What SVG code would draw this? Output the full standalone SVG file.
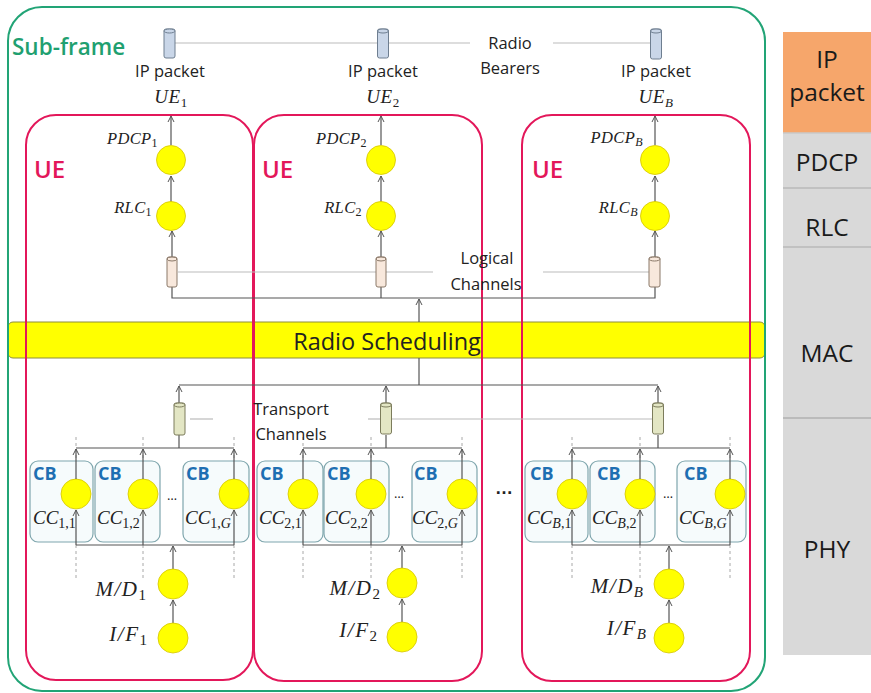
<svg xmlns="http://www.w3.org/2000/svg" width="871" height="693" viewBox="0 0 871 693">
<style>
.bg{fill:#ffffff}
.frame{fill:none;stroke:#22a476;stroke-width:2}
.ue{fill:none;stroke:#e3175a;stroke-width:2}
.bar{fill:#ffff00;stroke:#8c8c3c;stroke-width:1}
.cb{fill:#f6fbfc;stroke:#7fa6ad;stroke-width:1.2}
.node{fill:#ffff00;stroke:#d4c400;stroke-width:0.8}
.rb{fill:#c9d6e8;stroke:#6e7e90;stroke-width:1}
.lc{fill:#f8e8dc;stroke:#8a7868;stroke-width:1}
.tc{fill:#e3e6c4;stroke:#7c7c5c;stroke-width:1}
.ln{fill:none;stroke:#555;stroke-width:1.2}
.lt{fill:none;stroke:#bbb;stroke-width:1.2}
.dash{fill:none;stroke:#a8a8a8;stroke-width:1;stroke-dasharray:3,3}
.arr{fill:none;stroke:#555;stroke-width:1.2;marker-end:url(#ah)}
.sans{font-family:"Open Sans","Liberation Sans",sans-serif;fill:#222}
.small{font-size:16.5px}
.math{font-family:"Liberation Serif","DejaVu Serif",serif;font-style:italic;fill:#222}
.up{font-style:normal}
.uelab{font-family:"Open Sans","Liberation Sans",sans-serif;font-weight:600;font-size:24px;fill:#e3175a}
.cblab{font-family:"Open Sans","Liberation Sans",sans-serif;font-weight:700;font-size:18px;fill:#1e6fb2}
.col{font-family:"Open Sans","Liberation Sans",sans-serif;font-size:24.5px;fill:#1a1a1a;text-anchor:middle}
</style>
<defs>
<marker id="ah" markerWidth="8" markerHeight="8" refX="7" refY="4" orient="auto" markerUnits="userSpaceOnUse">
<path d="M1,1 L7,4 L1,7" fill="none" stroke="#555" stroke-width="1"/>
</marker>
</defs>
<rect class="bg" x="0" y="0" width="871" height="693"/>

<!-- right column layers -->
<g id="layers">
<rect x="783" y="32" width="88" height="101" fill="#f6a66b"/>
<rect x="783" y="133" width="88" height="522" fill="#d9d9d9"/>
<line x1="783" y1="133" x2="871" y2="133" stroke="#c8c8c8" stroke-width="1.5"/>
<line x1="783" y1="188" x2="871" y2="188" stroke="#b8b8b8" stroke-width="1.5"/>
<line x1="783" y1="247" x2="871" y2="247" stroke="#b8b8b8" stroke-width="1.5"/>
<line x1="783" y1="418" x2="871" y2="418" stroke="#b0b0b0" stroke-width="1.5"/>
<text class="col" x="827" y="68">IP</text>
<text class="col" x="827" y="101">packet</text>
<text class="col" x="827" y="171">PDCP</text>
<text class="col" x="827" y="236">RLC</text>
<text class="col" x="827" y="362">MAC</text>
<text class="col" x="827" y="558">PHY</text>
</g>

<!-- radio scheduling bar -->
<g id="radio-scheduling">
<rect class="bar" x="8" y="322" width="757" height="36" rx="5"/>
<text class="sans" x="387" y="350" font-size="23.5" text-anchor="middle">Radio Scheduling</text>
</g>

<!-- frames -->
<g id="subframe">
<rect class="frame" x="8" y="7" width="757" height="684" rx="34"/>
<text x="12" y="55" font-family="'Open Sans','Liberation Sans',sans-serif" font-weight="600" font-size="22.5" fill="#1fa070">Sub-frame</text>
</g>
<g id="ue1-box"><rect class="ue" x="26" y="115" width="227" height="565" rx="30"/><text class="uelab" x="34" y="178">UE</text></g>
<g id="ue2-box"><rect class="ue" x="254" y="115" width="228" height="566" rx="30"/><text class="uelab" x="262" y="178">UE</text></g>
<g id="ue3-box"><rect class="ue" x="522" y="115" width="228" height="566" rx="30"/><text class="uelab" x="532" y="178">UE</text></g>

<!-- connectors -->
<g id="connectors">
<line class="lt" x1="175" y1="43" x2="470" y2="43"/>
<line class="lt" x1="553" y1="43" x2="650" y2="43"/>
<line class="arr" x1="171" y1="145" x2="171" y2="116"/>
<line class="arr" x1="171" y1="202" x2="171" y2="176"/>
<line class="arr" x1="172" y1="257" x2="172" y2="231"/>
<line class="arr" x1="381" y1="145" x2="381" y2="116"/>
<line class="arr" x1="381" y1="202" x2="381" y2="176"/>
<line class="arr" x1="381" y1="257" x2="381" y2="231"/>
<line class="arr" x1="655" y1="145" x2="655" y2="116"/>
<line class="arr" x1="655" y1="202" x2="655" y2="176"/>
<line class="arr" x1="655" y1="257" x2="655" y2="231"/>
<line class="lt" x1="178" y1="272" x2="433" y2="272"/>
<line class="lt" x1="543" y1="272" x2="649" y2="272"/>
<polyline class="ln" points="172,287 172,298 655,298 655,287"/>
<line class="ln" x1="381" y1="287" x2="381" y2="298"/>
<line class="arr" x1="419" y1="322" x2="419" y2="299"/>
<line class="ln" x1="419" y1="358" x2="419" y2="385"/>
<line class="ln" x1="179" y1="385" x2="658" y2="385"/>
<line class="arr" x1="179" y1="403" x2="179" y2="386"/>
<line class="arr" x1="386" y1="403" x2="386" y2="386"/>
<line class="arr" x1="658" y1="403" x2="658" y2="386"/>
<line class="lt" x1="190" y1="419" x2="213" y2="419"/>
<line class="lt" x1="368" y1="419" x2="381" y2="419"/>
<line class="lt" x1="392" y1="419" x2="653" y2="419"/>
<line class="ln" x1="179" y1="435" x2="179" y2="448"/>
<line class="ln" x1="386" y1="435" x2="386" y2="448"/>
<line class="ln" x1="658" y1="435" x2="658" y2="448"/>
<line class="ln" x1="76" y1="448" x2="234" y2="448"/>
<line class="ln" x1="303" y1="448" x2="462" y2="448"/>
<line class="ln" x1="572" y1="448" x2="730" y2="448"/>
<line class="dash" x1="76" y1="437" x2="76" y2="578"/>
<line class="dash" x1="143" y1="437" x2="143" y2="578"/>
<line class="dash" x1="234" y1="437" x2="234" y2="578"/>
<line class="dash" x1="303" y1="437" x2="303" y2="578"/>
<line class="dash" x1="371" y1="437" x2="371" y2="578"/>
<line class="dash" x1="462" y1="437" x2="462" y2="578"/>
<line class="dash" x1="572" y1="437" x2="572" y2="578"/>
<line class="dash" x1="640" y1="437" x2="640" y2="578"/>
<line class="dash" x1="730" y1="437" x2="730" y2="578"/>
<line class="ln" x1="76" y1="545" x2="234" y2="545"/>
<line class="ln" x1="303" y1="545" x2="462" y2="545"/>
<line class="ln" x1="572" y1="545" x2="730" y2="545"/>
<line class="arr" x1="173" y1="569" x2="173" y2="546"/>
<line class="arr" x1="402" y1="568" x2="402" y2="546"/>
<line class="arr" x1="669" y1="569" x2="669" y2="546"/>
<line class="arr" x1="173" y1="623" x2="173" y2="600"/>
<line class="arr" x1="402" y1="622" x2="402" y2="599"/>
<line class="arr" x1="669" y1="623" x2="669" y2="600"/>
</g>

<!-- UE1 nodes -->
<g id="ue1">
<g id="rb1"><rect class="rb" x="164" y="29" width="11" height="29" rx="2"/><ellipse class="rb" cx="169.5" cy="31" rx="5.5" ry="2"/></g>
<text class="sans small" x="170" y="77" text-anchor="middle">IP packet</text>
<text class="math" x="171" y="103" font-size="19" text-anchor="middle" letter-spacing="0.5">UE<tspan class="up" font-size="13" dy="4">1</tspan></text>
<circle class="node" cx="171" cy="160" r="14.5"/>
<text class="math" x="158" y="144" font-size="16.5" text-anchor="end" letter-spacing="0.4">PDCP<tspan class="up" font-size="12" dy="3">1</tspan></text>
<circle class="node" cx="171" cy="216" r="14.5"/>
<text class="math" x="152" y="213" font-size="16.5" text-anchor="end" letter-spacing="0.4">RLC<tspan class="up" font-size="12" dy="3">1</tspan></text>
<g id="lc1"><rect class="lc" x="167" y="257" width="10" height="30" rx="2"/><ellipse class="lc" cx="172" cy="259" rx="5" ry="2"/></g>
<g id="tc1"><rect class="tc" x="174" y="403" width="11" height="32" rx="2"/><ellipse class="tc" cx="179.5" cy="405" rx="5.5" ry="2"/></g>
</g>
<g id="cb1-1"><rect class="cb" x="30" y="461" width="63" height="81" rx="8"/><text class="cblab" x="33" y="480">CB</text><text class="math" x="33" y="524" font-size="19">CC<tspan class="up" font-size="14" dy="4">1,1</tspan></text></g>
<g id="cb1-2"><rect class="cb" x="95" y="461" width="65" height="81" rx="8"/><text class="cblab" x="98" y="480">CB</text><text class="math" x="97" y="524" font-size="19">CC<tspan class="up" font-size="14" dy="4">1,2</tspan></text></g>
<g id="cb1-g"><rect class="cb" x="183" y="461" width="66" height="81" rx="8"/><text class="cblab" x="186" y="480">CB</text><text class="math" x="185" y="524" font-size="19">CC<tspan class="up" font-size="14" dy="4">1,</tspan><tspan font-size="14">G</tspan></text></g>
<text class="sans" x="172" y="500" font-size="13" text-anchor="middle">…</text>

<!-- UE2 nodes -->
<g id="ue2">
<g id="rb2"><rect class="rb" x="377.5" y="29" width="11" height="29" rx="2"/><ellipse class="rb" cx="383" cy="31" rx="5.5" ry="2"/></g>
<text class="sans small" x="383" y="77" text-anchor="middle">IP packet</text>
<text class="math" x="383" y="103" font-size="19" text-anchor="middle" letter-spacing="0.5">UE<tspan class="up" font-size="13" dy="4">2</tspan></text>
<circle class="node" cx="381" cy="160" r="14.5"/>
<text class="math" x="367" y="144" font-size="16.5" text-anchor="end" letter-spacing="0.4">PDCP<tspan class="up" font-size="12" dy="3">2</tspan></text>
<circle class="node" cx="381" cy="216" r="14.5"/>
<text class="math" x="362" y="213" font-size="16.5" text-anchor="end" letter-spacing="0.4">RLC<tspan class="up" font-size="12" dy="3">2</tspan></text>
<g id="lc2"><rect class="lc" x="376" y="257" width="10" height="30" rx="2"/><ellipse class="lc" cx="381" cy="259" rx="5" ry="2"/></g>
<g id="tc2"><rect class="tc" x="380.5" y="403" width="11" height="31" rx="2"/><ellipse class="tc" cx="386" cy="405" rx="5.5" ry="2"/></g>
</g>
<g id="cb2-1"><rect class="cb" x="257" y="461" width="66" height="81" rx="8"/><text class="cblab" x="260" y="480">CB</text><text class="math" x="259" y="524" font-size="19">CC<tspan class="up" font-size="14" dy="4">2,1</tspan></text></g>
<g id="cb2-2"><rect class="cb" x="324" y="461" width="65" height="81" rx="8"/><text class="cblab" x="327" y="480">CB</text><text class="math" x="325" y="524" font-size="19">CC<tspan class="up" font-size="14" dy="4">2,2</tspan></text></g>
<g id="cb2-g"><rect class="cb" x="412" y="461" width="65" height="81" rx="8"/><text class="cblab" x="414" y="480">CB</text><text class="math" x="412" y="524" font-size="19">CC<tspan class="up" font-size="14" dy="4">2,</tspan><tspan font-size="14">G</tspan></text></g>
<text class="sans" x="399" y="498" font-size="13" text-anchor="middle">…</text>

<!-- UE B nodes -->
<g id="ueB">
<g id="rbB"><rect class="rb" x="650.5" y="29" width="11" height="30" rx="2"/><ellipse class="rb" cx="656" cy="31" rx="5.5" ry="2"/></g>
<text class="sans small" x="656" y="77" text-anchor="middle">IP packet</text>
<text class="math" x="656" y="103" font-size="19" text-anchor="middle" letter-spacing="0.5">UE<tspan font-size="13" dy="4">B</tspan></text>
<circle class="node" cx="655" cy="160" r="14.5"/>
<text class="math" x="643" y="143" font-size="16.5" text-anchor="end" letter-spacing="0.4">PDCP<tspan font-size="12" dy="3">B</tspan></text>
<circle class="node" cx="655" cy="216" r="14.5"/>
<text class="math" x="638" y="213" font-size="16.5" text-anchor="end" letter-spacing="0.4">RLC<tspan font-size="12" dy="3">B</tspan></text>
<g id="lcB"><rect class="lc" x="649" y="257" width="11" height="30" rx="2"/><ellipse class="lc" cx="654.5" cy="259" rx="5.5" ry="2"/></g>
<g id="tcB"><rect class="tc" x="652.5" y="403" width="11" height="31" rx="2"/><ellipse class="tc" cx="658" cy="405" rx="5.5" ry="2"/></g>
</g>
<g id="cbB-1"><rect class="cb" x="525" y="461" width="63" height="81" rx="8"/><text class="cblab" x="530" y="480">CB</text><text class="math" x="527" y="524" font-size="19">CC<tspan font-size="14" dy="4">B</tspan><tspan class="up" font-size="14">,1</tspan></text></g>
<g id="cbB-2"><rect class="cb" x="590" y="461" width="65" height="81" rx="8"/><text class="cblab" x="597" y="480">CB</text><text class="math" x="592" y="524" font-size="19">CC<tspan font-size="14" dy="4">B</tspan><tspan class="up" font-size="14">,2</tspan></text></g>
<g id="cbB-g"><rect class="cb" x="677" y="461" width="69" height="81" rx="8"/><text class="cblab" x="684" y="480">CB</text><text class="math" x="679" y="524" font-size="19">CC<tspan font-size="14" dy="4">B,G</tspan></text></g>
<text class="sans" x="668" y="498" font-size="13" text-anchor="middle">…</text>

<!-- CB circles and arrows -->
<g id="cb-nodes">
<circle class="node" cx="76" cy="494" r="15"/><circle class="node" cx="143" cy="494" r="15"/><circle class="node" cx="234" cy="494" r="15"/>
<circle class="node" cx="303" cy="494" r="15"/><circle class="node" cx="371" cy="494" r="15"/><circle class="node" cx="462" cy="494" r="15"/>
<circle class="node" cx="572" cy="494" r="15"/><circle class="node" cx="640" cy="494" r="15"/><circle class="node" cx="730" cy="494" r="15"/>
</g>
<g id="cb-arrows">
<line class="arr" x1="76" y1="545" x2="76" y2="510"/><line class="arr" x1="76" y1="479" x2="76" y2="449"/>
<line class="arr" x1="143" y1="545" x2="143" y2="510"/><line class="arr" x1="143" y1="479" x2="143" y2="449"/>
<line class="arr" x1="234" y1="545" x2="234" y2="510"/><line class="arr" x1="234" y1="479" x2="234" y2="449"/>
<line class="arr" x1="303" y1="545" x2="303" y2="510"/><line class="arr" x1="303" y1="479" x2="303" y2="449"/>
<line class="arr" x1="371" y1="545" x2="371" y2="510"/><line class="arr" x1="371" y1="479" x2="371" y2="449"/>
<line class="arr" x1="462" y1="545" x2="462" y2="510"/><line class="arr" x1="462" y1="479" x2="462" y2="449"/>
<line class="arr" x1="572" y1="545" x2="572" y2="510"/><line class="arr" x1="572" y1="479" x2="572" y2="449"/>
<line class="arr" x1="640" y1="545" x2="640" y2="510"/><line class="arr" x1="640" y1="479" x2="640" y2="449"/>
<line class="arr" x1="730" y1="545" x2="730" y2="510"/><line class="arr" x1="730" y1="479" x2="730" y2="449"/>
</g>

<!-- M/D and I/F -->
<g id="md1"><circle class="node" cx="173" cy="584" r="15"/><text class="math" x="146" y="596" font-size="21" text-anchor="end" letter-spacing="1.5">M/D<tspan class="up" font-size="15" dy="4" letter-spacing="0">1</tspan></text></g>
<g id="if1"><circle class="node" cx="173" cy="638" r="15"/><text class="math" x="147" y="641" font-size="21" text-anchor="end" letter-spacing="1.5">I/F<tspan class="up" font-size="15" dy="4" letter-spacing="0">1</tspan></text></g>
<g id="md2"><circle class="node" cx="402" cy="583" r="15"/><text class="math" x="380" y="595" font-size="21" text-anchor="end" letter-spacing="1.5">M/D<tspan class="up" font-size="15" dy="4" letter-spacing="0">2</tspan></text></g>
<g id="if2"><circle class="node" cx="402" cy="637" r="15"/><text class="math" x="377" y="637" font-size="21" text-anchor="end" letter-spacing="1.5">I/F<tspan class="up" font-size="15" dy="4" letter-spacing="0">2</tspan></text></g>
<g id="mdB"><circle class="node" cx="669" cy="584" r="15"/><text class="math" x="643" y="593" font-size="21" text-anchor="end" letter-spacing="1.5">M/D<tspan font-size="15" dy="4" letter-spacing="0">B</tspan></text></g>
<g id="ifB"><circle class="node" cx="669" cy="638" r="15"/><text class="math" x="646" y="635" font-size="21" text-anchor="end" letter-spacing="1.5">I/F<tspan font-size="15" dy="4" letter-spacing="0">B</tspan></text></g>

<!-- labels -->
<g id="labels">
<text class="sans small" x="510" y="49" text-anchor="middle">Radio</text>
<text class="sans small" x="510" y="74" text-anchor="middle">Bearers</text>
<text class="sans small" x="487" y="264" text-anchor="middle">Logical</text>
<text class="sans small" x="486" y="290" text-anchor="middle">Channels</text>
<text class="sans small" x="291" y="415" text-anchor="middle">Transport</text>
<text class="sans small" x="291" y="440" text-anchor="middle">Channels</text>
<text x="504" y="494" font-family="'Liberation Sans',sans-serif" font-weight="700" font-size="18" fill="#222" text-anchor="middle">…</text>
</g>
</svg>
